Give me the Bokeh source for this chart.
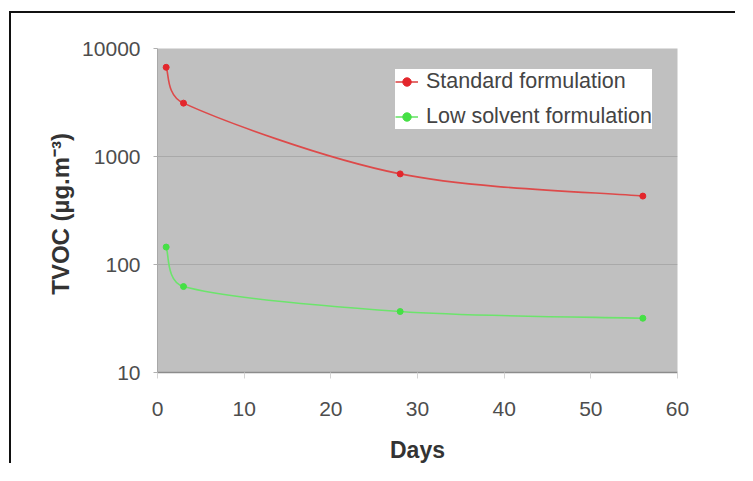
from bokeh.plotting import figure
from bokeh.models import FixedTicker, NumeralTickFormatter, Legend, LegendItem, Range1d
from bokeh.embed import file_html
from bokeh.resources import INLINE
import math

# ---- data ----
days = [1, 3, 28, 56]
standard = [6700, 3120, 690, 430]
low_solvent = [145, 62.5, 36.7, 31.8]
series_names = ["Standard formulation", "Low solvent formulation"]
x_ticks = [0, 10, 20, 30, 40, 50, 60]
y_ticks = [10, 100, 1000, 10000]

RED_LINE = "#dd4a4a"
RED_DOT = "#e3262c"
GREEN_LINE = "#6ce46c"
GREEN_DOT = "#45e045"


def smooth_controls(xs, ys):
    """Catmull-Rom -> cubic Bezier control points in (x, log10 y) space,
    tangents shortened so that the curve never runs backwards in x
    (Excel-style smoothed line through the data points)."""
    P = [(x, math.log10(y)) for x, y in zip(xs, ys)]
    n = len(P)
    out = dict(x0=[], y0=[], x1=[], y1=[], cx0=[], cy0=[], cx1=[], cy1=[])
    for i in range(n - 1):
        p0 = P[max(i - 1, 0)]
        p1 = P[i]
        p2 = P[i + 1]
        p3 = P[min(i + 2, n - 1)]
        span = p2[0] - p1[0]
        d1 = ((p2[0] - p0[0]) / 6.0, (p2[1] - p0[1]) / 6.0)
        d2 = ((p3[0] - p1[0]) / 6.0, (p3[1] - p1[1]) / 6.0)
        k1 = min(1.0, span / d1[0]) if d1[0] > 0 else 1.0
        k2 = min(1.0, span / d2[0]) if d2[0] > 0 else 1.0
        c1 = (p1[0] + k1 * d1[0], p1[1] + k1 * d1[1])
        c2 = (p2[0] - k2 * d2[0], p2[1] - k2 * d2[1])
        out["x0"].append(p1[0]); out["y0"].append(10 ** p1[1])
        out["x1"].append(p2[0]); out["y1"].append(10 ** p2[1])
        out["cx0"].append(c1[0]); out["cy0"].append(10 ** c1[1])
        out["cx1"].append(c2[0]); out["cy1"].append(10 ** c2[1])
    return out


p = figure(
    width=726, height=452,
    y_axis_type="log",
    x_range=Range1d(0, 60), y_range=Range1d(10, 10000),
    output_backend="svg", toolbar_location=None,
    min_border_left=146, min_border_right=60, min_border_top=35, min_border_bottom=89,
)
# outer picture frame: only its top and left edges fall inside the picture
p.styles = {
    "border-top": "2px solid #111111",
    "border-left": "2px solid #111111",
    "margin-left": "9px",
    "margin-top": "11px",
}

p.background_fill_color = "#c0c0c0"
p.border_fill_color = "white"
p.outline_line_color = None

# grid
p.xgrid.grid_line_color = None
p.ygrid.grid_line_color = "#a9a9a9"
p.ygrid.grid_line_width = 1
p.ygrid.ticker = FixedTicker(ticks=y_ticks)

# x axis
p.xaxis.ticker = FixedTicker(ticks=x_ticks)
p.xaxis.axis_label = "Days"
p.xaxis.axis_line_color = "#8c8c8c"
p.xaxis.axis_line_width = 1.5
p.xaxis.major_tick_line_color = "#d4d4d4"
p.xaxis.major_tick_out = 6
p.xaxis.major_tick_in = 0
p.xaxis.minor_tick_line_color = None
p.xaxis.major_label_standoff = 23
p.xaxis.axis_label_standoff = 18

# y axis
p.yaxis.ticker = FixedTicker(ticks=y_ticks)
p.yaxis.formatter = NumeralTickFormatter(format="0")
p.yaxis.axis_label = "TVOC  (µg.m⁻³)"
p.yaxis.axis_line_color = "#a8a8a8"
p.yaxis.major_tick_line_color = "#b0b0b0"
p.yaxis.major_tick_out = 4
p.yaxis.major_tick_in = 0
p.yaxis.minor_tick_line_color = None
p.yaxis.major_label_standoff = 13
p.yaxis.axis_label_standoff = 5

for ax in (p.xaxis, p.yaxis):
    ax.major_label_text_font = "Liberation Sans"
    ax.major_label_text_font_size = "21px"
    ax.major_label_text_color = "#4d4d4d"
    ax.axis_label_text_font = "Liberation Sans"
    ax.axis_label_text_font_style = "bold"
    ax.axis_label_text_color = "#333333"
p.xaxis.axis_label_text_font_size = "23px"
p.yaxis.axis_label_text_font_size = "24px"

# series
seg_std = smooth_controls(days, standard)
seg_low = smooth_controls(days, low_solvent)

l1 = p.bezier(source=seg_std, x0="x0", y0="y0", x1="x1", y1="y1",
              cx0="cx0", cy0="cy0", cx1="cx1", cy1="cy1",
              line_color=RED_LINE, line_width=1.6)
m1 = p.scatter(days, standard, size=6, marker="circle",
               fill_color=RED_DOT, line_color=RED_DOT)
l2 = p.bezier(source=seg_low, x0="x0", y0="y0", x1="x1", y1="y1",
              cx0="cx0", cy0="cy0", cx1="cx1", cy1="cy1",
              line_color=GREEN_LINE, line_width=1.6)
m2 = p.scatter(days, low_solvent, size=6, marker="circle",
               fill_color=GREEN_DOT, line_color=GREEN_DOT)

# legend glyph proxies (line + marker)
lg1 = p.line([0, 1], [1e6, 1e6], line_color=RED_LINE, line_width=1.6)
lg2 = p.line([0, 1], [1e6, 1e6], line_color=GREEN_LINE, line_width=1.6)

legend = Legend(items=[
    LegendItem(label=series_names[0], renderers=[lg1, m1]),
    LegendItem(label=series_names[1], renderers=[lg2, m2]),
])
legend.location = (238, 243)
legend.background_fill_color = "white"
legend.background_fill_alpha = 1.0
legend.border_line_color = None
legend.padding = 7
legend.margin = 0
legend.spacing = 10
legend.glyph_width = 23
legend.glyph_height = 21
legend.label_height = 21
legend.label_width = 225
legend.label_standoff = 8
legend.label_text_font = "Liberation Sans"
legend.label_text_font_size = "21.5px"
legend.label_text_color = "#444444"
p.add_layout(legend, "center")

open("out.html", "w").write(file_html(p, INLINE))
